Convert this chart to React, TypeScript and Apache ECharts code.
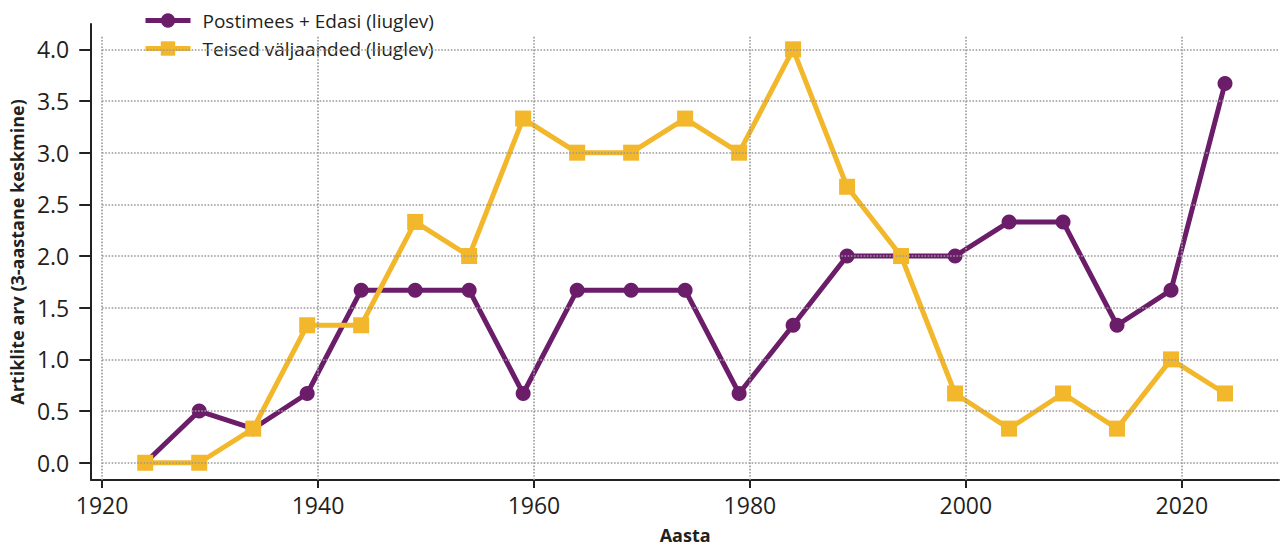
import React, { useEffect, useRef } from "react";
import * as echarts from "echarts";

const years = [1924, 1929, 1934, 1939, 1944, 1949, 1954, 1959, 1964, 1969, 1974, 1979, 1984, 1989, 1994, 1999, 2004, 2009, 2014, 2019, 2024];
const postimees = [0, 0.5, 0.33, 0.67, 1.67, 1.67, 1.67, 0.67, 1.67, 1.67, 1.67, 0.67, 1.33, 2.0, 2.0, 2.0, 2.33, 2.33, 1.33, 1.67, 3.67];
const teised = [0, 0, 0.33, 1.33, 1.33, 2.33, 2.0, 3.33, 3.0, 3.0, 3.33, 3.0, 4.0, 2.67, 2.0, 0.67, 0.33, 0.67, 0.33, 1.0, 0.67];
const xTicks = [1920, 1940, 1960, 1980, 2000, 2020];
const yTicks = [0, 0.5, 1.0, 1.5, 2.0, 2.5, 3.0, 3.5, 4.0];
const seriesNames = ["Postimees + Edasi (liuglev)", "Teised väljaanded (liuglev)"];

const FONT = "'Open Sans', 'Noto Sans', sans-serif";
const TXT = "#231f20";
const PURPLE = "#6b1d6a";
const YELLOW = "#f2b72b";
const X_MIN = 1919;
const X_MAX = 2029;
const Y_MIN = -0.167;
const Y_MAX = 4.245;
const V_GRID_TOP = 4.127;

export default function App() {
  const ref = useRef<HTMLDivElement>(null);
  useEffect(() => {
    document.body.style.margin = "0";
    if (!ref.current) return;
    const chart = echarts.init(ref.current, null, { renderer: "svg" });
    const gridStyle = { type: "dotted", color: "#9a9a9a", width: 1.6 };
    const gridLines: any[] = [];
    xTicks.forEach((x) => gridLines.push([{ coord: [x, Y_MIN] }, { coord: [x, V_GRID_TOP] }]));
    yTicks.forEach((y) => gridLines.push([{ coord: [1920, y] }, { coord: [X_MAX, y] }]));
    chart.setOption({
      animation: false,
      textStyle: { fontFamily: FONT },
      grid: { left: 90, right: 6, top: 24, bottom: 70 },
      legend: {
        orient: "vertical",
        left: 143,
        top: 11,
        padding: 0,
        itemWidth: 45,
        itemHeight: 18,
        itemGap: 9,
        data: [
          { name: seriesNames[0], lineStyle: { width: 5 } },
          { name: seriesNames[1], lineStyle: { width: 5 } },
        ],
        textStyle: { fontFamily: FONT, fontSize: 19, color: TXT, lineHeight: 18, padding: [0, 0, 0, 7] },
      },
      xAxis: {
        type: "value",
        min: X_MIN,
        max: X_MAX,
        name: "Aasta",
        nameLocation: "middle",
        nameGap: 46,
        nameTextStyle: { fontFamily: FONT, fontSize: 18, fontWeight: "bold", color: TXT },
        axisLine: { onZero: false, lineStyle: { color: "#222", width: 2 } },
        axisTick: { show: true, length: 8, lineStyle: { color: "#222", width: 2 }, customValues: xTicks },
        axisLabel: {
          customValues: xTicks,
          fontFamily: FONT,
          fontSize: 23,
          color: TXT,
          margin: 13,
          formatter: (v: number) => String(v),
        },
        splitLine: { show: false },
      },
      yAxis: {
        type: "value",
        min: Y_MIN,
        max: Y_MAX,
        name: "Artiklite arv (3-aastane keskmine)",
        nameLocation: "middle",
        nameGap: 64,
        nameRotate: 90,
        nameTextStyle: { fontFamily: FONT, fontSize: 18, fontWeight: "bold", color: TXT },
        axisLine: { show: true, onZero: false, lineStyle: { color: "#222", width: 2 } },
        axisTick: { show: true, length: 12, lineStyle: { color: "#222", width: 2 }, customValues: yTicks },
        axisLabel: {
          customValues: yTicks,
          fontFamily: FONT,
          fontSize: 23,
          color: TXT,
          margin: 22,
          formatter: (v: number) => v.toFixed(1),
        },
        splitLine: { show: false },
      },
      series: [
        {
          type: "line",
          name: "grid",
          data: [],
          silent: true,
          z: 1,
          markLine: {
            silent: true,
            symbol: "none",
            label: { show: false },
            lineStyle: gridStyle,
            data: gridLines,
          },
        },
        {
          type: "line",
          name: seriesNames[0],
          data: years.map((y, i) => [y, postimees[i]]),
          symbol: "circle",
          symbolSize: 15,
          z: 3,
          lineStyle: { color: PURPLE, width: 5 },
          itemStyle: { color: PURPLE },
        },
        {
          type: "line",
          name: seriesNames[1],
          data: years.map((y, i) => [y, teised[i]]),
          symbol: "rect",
          symbolSize: 16,
          z: 4,
          lineStyle: { color: YELLOW, width: 5 },
          itemStyle: { color: YELLOW },
        },
      ],
    });
    return () => chart.dispose();
  }, []);
  return <div ref={ref} style={{ width: 1285, height: 550 }} />;
}
